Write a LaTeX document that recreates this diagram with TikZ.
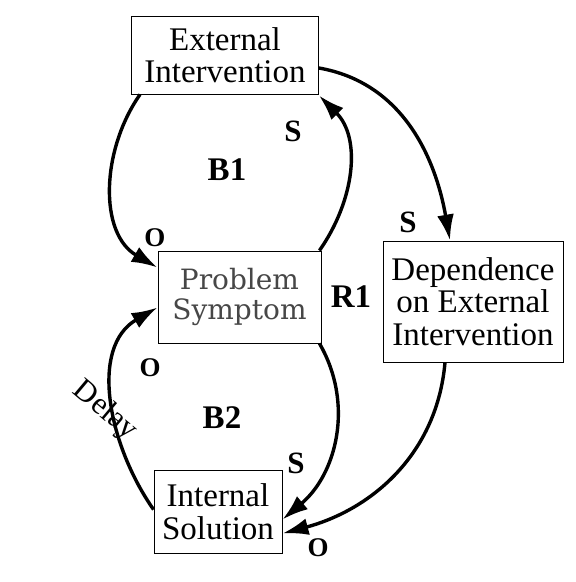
\documentclass[tikz,border=0pt]{standalone}
\usepackage{fontspec}
\setmainfont{Liberation Serif}
\newfontfamily\probfont{DejaVu Serif}
\usetikzlibrary{arrows.meta}
\tikzset{box/.style={draw,line width=.9pt,align=center,inner sep=2pt,font=\fontsize{33}{32.5}\selectfont},
lbl/.style={font=\fontsize{31}{31}\selectfont\bfseries},
lblo/.style={font=\fontsize{27}{27}\selectfont\bfseries},
loopname/.style={font=\fontsize{33}{33}\selectfont\bfseries},
link/.style={line width=3.4pt,-{Latex[length=26pt,width=17pt]}}}
\begin{document}
\begin{tikzpicture}[x=1pt,y=1pt]
\useasboundingbox(0,0)rectangle(576,-582);
\node[box,minimum width=187,minimum height=78](ext)at(225,-55){External\\Intervention};
\node[box,minimum width=163,minimum height=92,text=black!72,font=\probfont\fontsize{28}{30}\selectfont](sym)at(239.5,-297){Problem\\Symptom};
\node[box,minimum width=128,minimum height=83](sol)at(218,-511.5){Internal\\Solution};
\node[box,minimum width=180,minimum height=121](dep)at(473,-301.5){Dependence\\on External\\Intervention};
\draw[link]([xshift=9]ext.south west)to[out=235,in=150]([yshift=-17]sym.north west);
\draw[link]([xshift=-2]sym.north east)to[out=55,in=-45]([yshift=-1]ext.south east);
\draw[link]([yshift=-13]ext.east)to[out=-10,in=100]([xshift=-23]dep.north);
\draw[link]([xshift=-2]sym.south east)to[out=-60,in=40]([yshift=-8]sol.east);
\draw[link]([xshift=-28]dep.south)to[out=-95,in=15]([yshift=-22]sol.east);
\draw[link]([yshift=-40]sol.north west)to[out=125,in=210]([yshift=36]sym.south west);
\node[lbl](s1)at(293,-131){S};\node[loopname](b1)at(227,-170){B1};
\node[lblo](o1)at(155,-238){O};\node[loopname](r1)at(351,-297){R1};
\node[lbl](s2)at(408,-222){S};\node[lblo](o2)at(150,-368){O};
\node[rotate=-40,font=\fontsize{31}{31}\selectfont](delay)at(105,-411){Delay};
\node[loopname](b2)at(222,-418){B2};
\node[lbl](s3)at(296,-463){S};\node[lblo](o3)at(318,-548){O};
\end{tikzpicture}
\end{document}
